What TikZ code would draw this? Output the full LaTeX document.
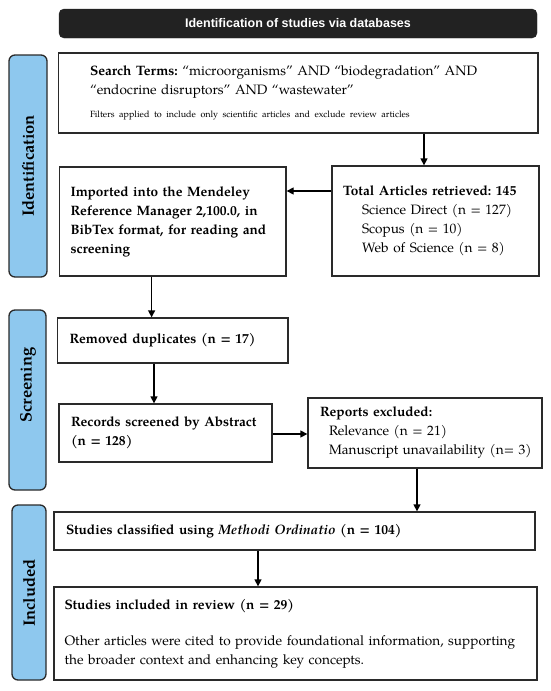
\documentclass[tikz,border=0pt]{standalone}
\usepackage{fontspec}
\setmainfont{texgyrepagella}[Extension=.otf, UprightFont=*-regular, BoldFont=*-bold, ItalicFont=*-italic, BoldItalicFont=*-bolditalic]
\newfontfamily\hdrfont{Liberation Sans}
\usetikzlibrary{arrows.meta}
\definecolor{barblue}{HTML}{8EC8EE}
\definecolor{hdrblack}{HTML}{222222}
\definecolor{edge}{HTML}{2A2A2A}
\frenchspacing
\begin{document}
\begin{tikzpicture}[x=1pt,y=-1pt,
  box/.style={draw=edge, line width=1.3pt, fill=white, align=left, inner ysep=0pt,
    font=\frenchspacing\fontsize{13.6}{19}\selectfont},
  phase/.style={draw=edge, line width=1.3pt, fill=barblue, rounded corners=6pt},
  phasetext/.style={rotate=90, font=\fontsize{16.5}{18}\selectfont\bfseries},
  arr/.style={draw=black, line width=1.3pt, -{Triangle[length=7pt,width=7pt]}}
]
\useasboundingbox (0,0) rectangle (550,691);

% header
\node[fill=hdrblack, draw=hdrblack, rounded corners=5pt, minimum width=478pt, minimum height=29pt,
  font=\hdrfont\fontsize{12.5}{14}\selectfont\bfseries, text=white] (hdr) at (298,23.5)
  {Identification of studies via databases};

% phase bars
\draw[phase] (9,55) rectangle (47,277);
\node[phasetext] (pid) at (28,166) {Identification};
\draw[phase] (9,310) rectangle (46,490);
\node[phasetext] (psc) at (28,385) {Screening};
\draw[phase] (12,505) rectangle (46,680);
\node[phasetext] (pin) at (29,593) {Included};

% boxes
\node[box, text width=416.5pt, inner xsep=31.5pt, minimum height=80pt] (search) at (298.25,93)
 {\mbox{\textbf{Search Terms:} “microorganisms” AND “biodegradation” AND}\\
  \mbox{“endocrine disruptors” AND “wastewater”}\\[4pt]
  \mbox{\fontsize{9}{11}\selectfont Filters applied to include only scientific articles and exclude review articles}};

\node[box, text width=185pt, inner xsep=11pt, minimum height=110pt] (total) at (435.5,221)
 {\mbox{\textbf{Total Articles retrieved: 145}}\\
  \hspace*{19pt}Science Direct (n = 127)\\
  \hspace*{19pt}Scopus (n = 10)\\
  \hspace*{19pt}Web of Science (n = 8)\\[-6pt]};

\node[box, text width=204.5pt, inner xsep=11pt, minimum height=109pt, font=\frenchspacing\fontsize{13.6}{19}\selectfont\bfseries] (imp) at (172.75,221.5)
 {\mbox{Imported into the Mendeley}\\
  \mbox{Reference Manager 2,100.0, in}\\
  \mbox{BibTex format, for reading and}\\
  screening};

\node[box, text width=206.5pt, inner xsep=12pt, minimum height=45pt, font=\frenchspacing\fontsize{13.6}{19}\selectfont\bfseries] (rem) at (172.75,340.5)
 {Removed duplicates (n = 17)};

\node[box, text width=189pt, inner xsep=12pt, minimum height=58pt, font=\frenchspacing\fontsize{13.6}{19}\selectfont\bfseries] (rec) at (165.5,433)
 {\mbox{Records screened by Abstract}\\(n = 128)};

\node[box, text width=210pt, inner xsep=12pt, minimum height=70pt] (rep) at (425,433)
 {\mbox{\textbf{Reports excluded:}}\\
  \mbox{\hspace*{9pt}Relevance (n = 21)}\\
  \mbox{\hspace*{9pt}Manuscript unavailability (n= 3)}};

\node[box, text width=457pt, inner xsep=12pt, minimum height=38pt] (cls) at (294.5,531)
 {\mbox{\textbf{Studies classified using \textit{Methodi Ordinatio} (n = 104)}}};

\node[box, text width=462pt, inner xsep=10.5pt, minimum height=93pt] (inc) at (295.5,633.5)
 {\mbox{\textbf{Studies included in review (n = 29)}}\\[17pt]
  \mbox{Other articles were cited to provide foundational information, supporting}\\
  \mbox{the broader context and enhancing key concepts.}};

% connector coordinates
\coordinate (c1) at (424,0);
\coordinate (c2) at (0,191);
\coordinate (c3) at (151.6,0);
\coordinate (c4) at (154,0);
\coordinate (c5) at (0,434);
\coordinate (c6) at (417,0);
\coordinate (c7) at (258,0);

\draw[arr] (search.south -| c1) -- (total.north -| c1);
\draw[arr] (total.west |- c2) -- (imp.east |- c2);
\draw[arr] (imp.south -| c3) -- (rem.north -| c3);
\draw[arr] (rem.south -| c4) -- (rec.north -| c4);
\draw[arr] (rec.east |- c5) -- (rep.west |- c5);
\draw[arr] (rep.south -| c6) -- (cls.north -| c6);
\draw[arr] (cls.south -| c7) -- (inc.north -| c7);
\end{tikzpicture}
\end{document}
